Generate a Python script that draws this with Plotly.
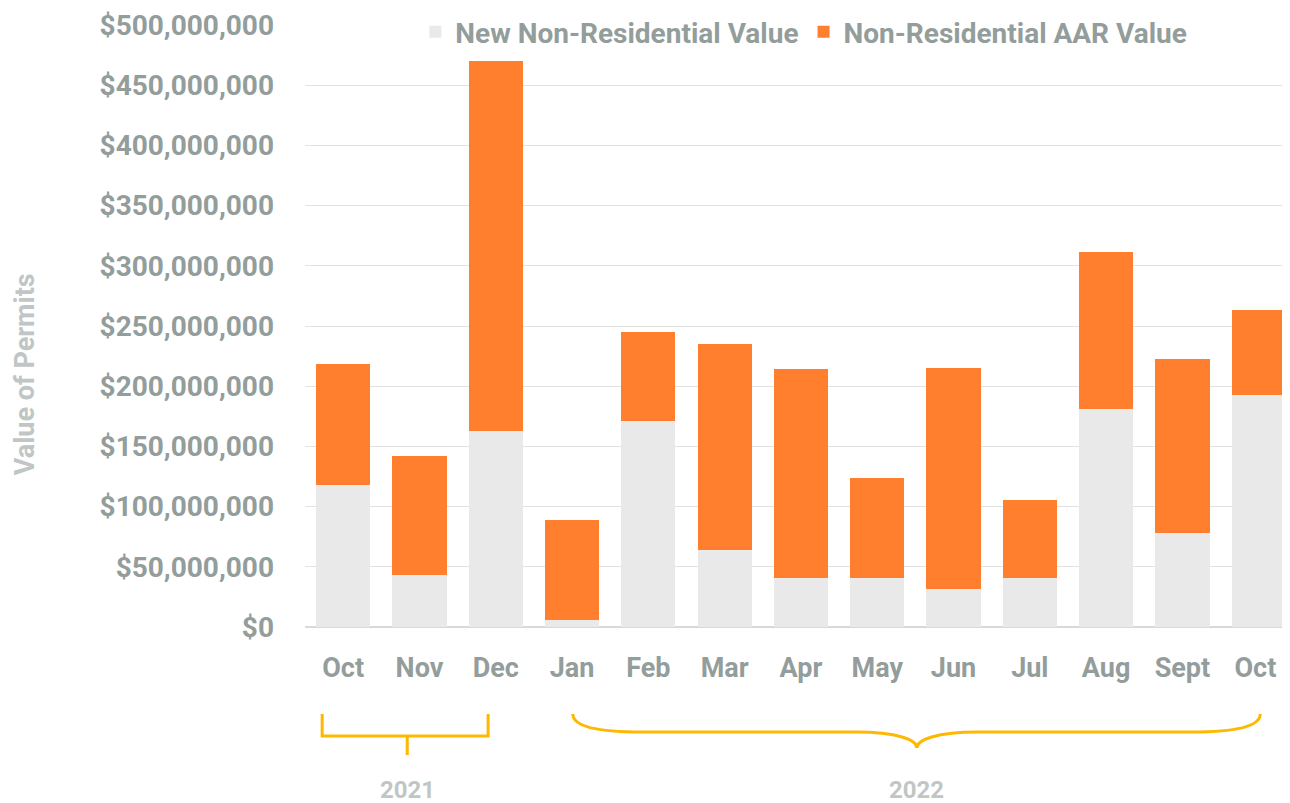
import plotly.graph_objects as go

months = ["Oct", "Nov", "Dec", "Jan", "Feb", "Mar", "Apr", "May", "Jun", "Jul", "Aug", "Sept", "Oct "]
new_nonres = [117.9, 43.2, 162.8, 5.8, 171.0, 64.0, 40.7, 40.7, 31.6, 40.7, 181.0, 78.0, 192.7]
total_value = [218.4, 142.0, 470.0, 88.9, 245.0, 235.0, 214.0, 123.8, 215.0, 105.5, 311.5, 222.6, 263.3]
aar_nonres = [round(t - n, 1) for t, n in zip(total_value, new_nonres)]
new_vals = [v * 1e6 for v in new_nonres]
aar_vals = [v * 1e6 for v in aar_nonres]
y_ticks = [0, 50e6, 100e6, 150e6, 200e6, 250e6, 300e6, 350e6, 400e6, 450e6, 500e6]
y_tick_text = ["$" + format(int(v), ",") for v in y_ticks]
years = ["2021", "2022"]

GRAY_TXT = "#939D9B"
LIGHT_TXT = "#BFC6C5"
GOLD = "#FFB800"
FONT = "Roboto"

XMAX = 12.41
def xp(idx):
    return (idx + 0.5) / (XMAX + 0.5)

PLOT_BOTTOM = 627
PLOT_H = 602
def yp(pix):
    return (PLOT_BOTTOM - pix) / PLOT_H

fig = go.Figure()
fig.add_trace(go.Bar(x=months, y=new_vals, name="New Non-Residential Value",
                     marker=dict(color="#E8E9E8", line=dict(width=0))))
fig.add_trace(go.Bar(x=months, y=aar_vals, name="Non-Residential AAR Value",
                     marker=dict(color="#FF7F2F", line=dict(width=0))))

# 2021 bracket
L, R, C = -0.275, 1.90, 0.84
p1 = (f"M {xp(L)},{yp(714)} L {xp(L)},{yp(736)} L {xp(R)},{yp(736)} L {xp(R)},{yp(714)} "
      f"M {xp(C)},{yp(736)} L {xp(C)},{yp(755)}")
# 2022 curly brace
L2, R2, T2 = 3.01, 12.02, 7.52
p2 = (f"M {xp(L2)},{yp(714)} C {xp(L2)},{yp(728)} {xp(L2+0.4)},{yp(732)} {xp(L2+0.9)},{yp(732)} "
      f"L {xp(T2-0.8)},{yp(732)} C {xp(T2-0.25)},{yp(732)} {xp(T2)},{yp(740)} {xp(T2)},{yp(748)} "
      f"C {xp(T2)},{yp(740)} {xp(T2+0.25)},{yp(732)} {xp(T2+0.8)},{yp(732)} "
      f"L {xp(R2-0.9)},{yp(732)} C {xp(R2-0.4)},{yp(732)} {xp(R2)},{yp(728)} {xp(R2)},{yp(714)}")
for p in (p1, p2):
    fig.add_shape(type="path", path=p, xref="paper", yref="paper",
                  line=dict(color=GOLD, width=3), layer="above")

for yr, c in zip(years, [C, T2]):
    fig.add_annotation(text=f"<b>{yr}</b>", x=xp(c), y=yp(790), xref="paper", yref="paper",
                       showarrow=False, font=dict(family=FONT, size=24, color=LIGHT_TXT),
                       xanchor="center", yanchor="middle")

fig.add_annotation(text="<b>Value of Permits</b>", x=-0.284, y=yp(374), xref="paper", yref="paper",
                   showarrow=False, textangle=-90, font=dict(family=FONT, size=27, color=LIGHT_TXT),
                   xanchor="center", yanchor="middle")

fig.update_layout(
    width=1290, height=803, autosize=False,
    margin=dict(l=297, r=8, t=17, b=184, autoexpand=False),
    barmode="stack", bargap=0.29,
    plot_bgcolor="white", paper_bgcolor="white",
    font=dict(family=FONT, color=GRAY_TXT),
    showlegend=True,
    legend=dict(orientation="h", x=0.112, y=1.03, xanchor="left", yanchor="top",
                font=dict(family=FONT, size=28, color=GRAY_TXT, weight="bold"),
                bgcolor="rgba(255,255,255,0)", itemwidth=30, traceorder="normal"),
    xaxis=dict(range=[-0.5, XMAX], showgrid=False, showline=False, zeroline=False, ticks="",
               tickfont=dict(family=FONT, size=27, color=GRAY_TXT, weight="bold"),
               ticklabelstandoff=22),
    yaxis=dict(range=[0, 500e6], tickvals=y_ticks, ticktext=y_tick_text, showgrid=True,
               gridcolor="#E2E2E2", gridwidth=1, zeroline=True, zerolinecolor="#D9D9D9",
               showline=False, ticks="",
               tickfont=dict(family=FONT, size=28, color=GRAY_TXT, weight="bold"),
               ticklabelstandoff=30),
)

fig.write_html("out.html")
